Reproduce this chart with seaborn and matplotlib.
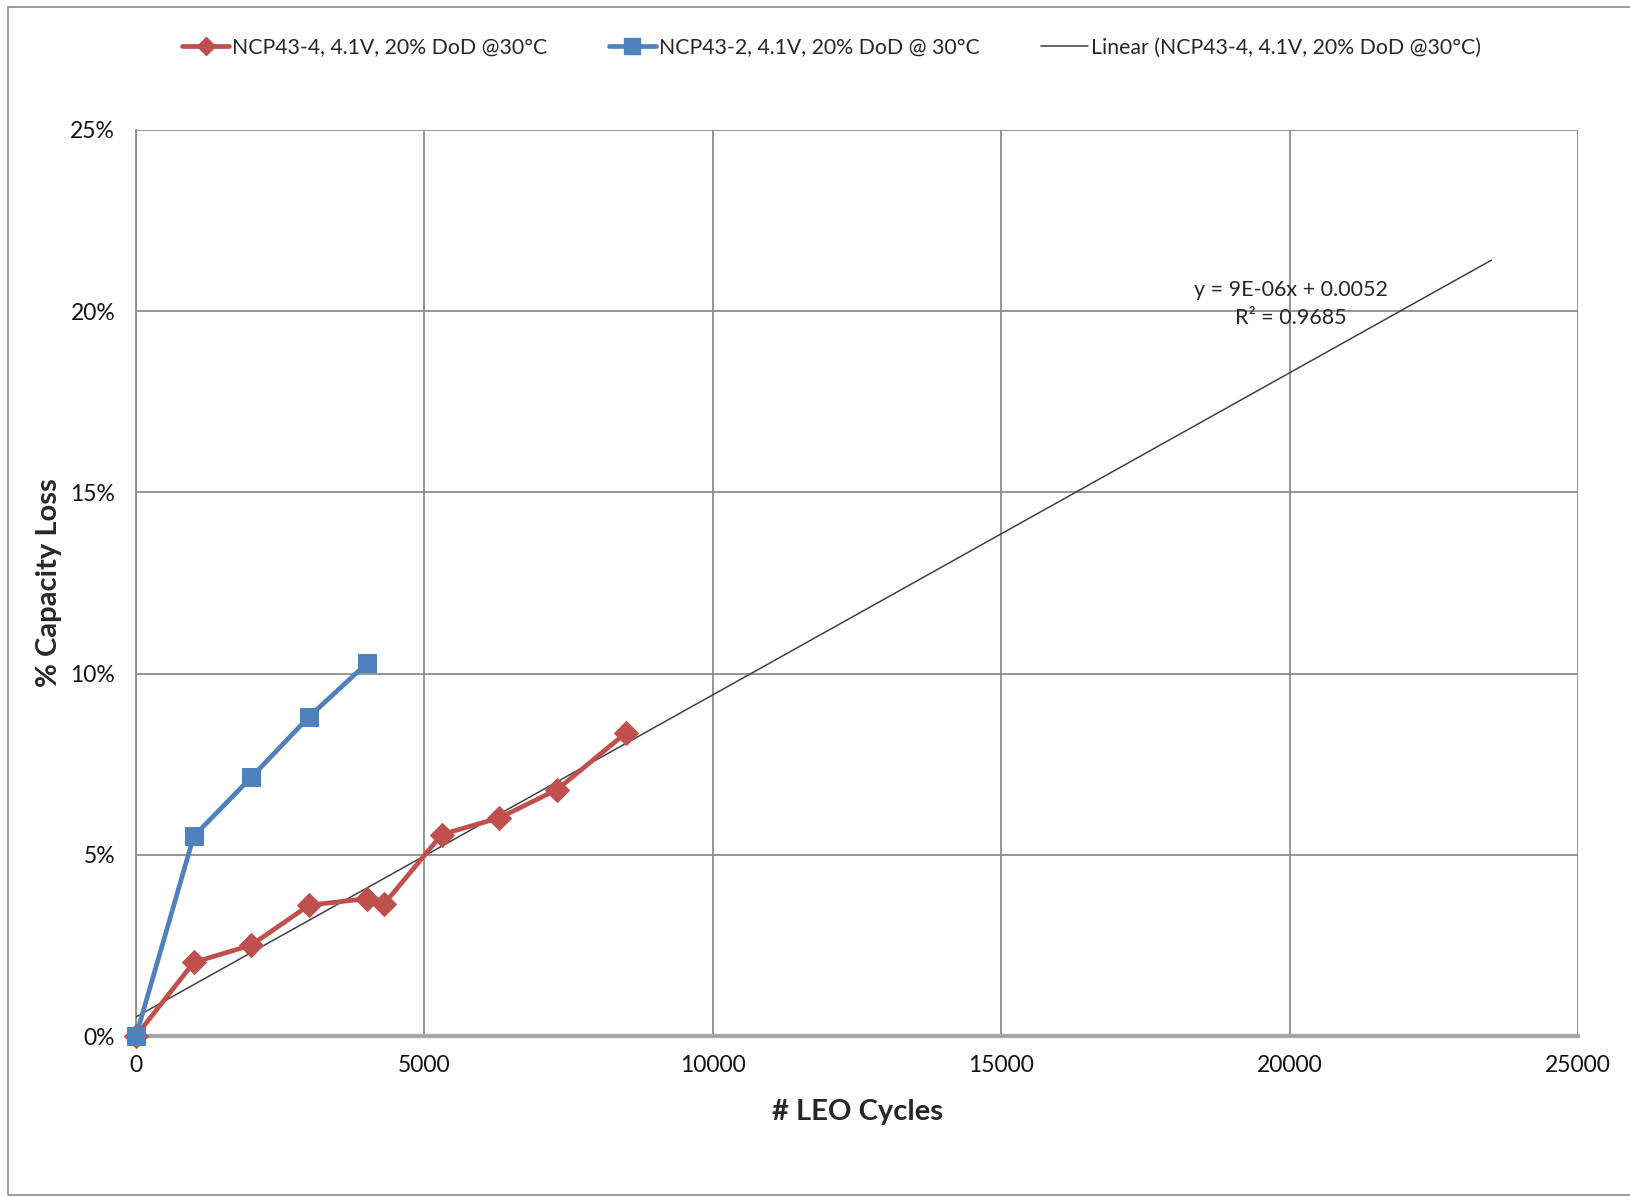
import numpy as np
import pandas as pd
import matplotlib
matplotlib.use("Agg")
import matplotlib.pyplot as plt
import seaborn as sns
from matplotlib.lines import Line2D
from matplotlib.patches import Rectangle
from matplotlib.ticker import PercentFormatter

# Cell NCP43-4 (4.1V, 20% DoD @30°C)
cycles_43_4 = [0, 1000, 2000, 3000, 4000, 4300, 5300, 6300, 7300, 8500]
loss_43_4 = [0.0, 0.0203, 0.0251, 0.0361, 0.0379, 0.0364, 0.0556, 0.0602, 0.0680, 0.0837]

# Cell NCP43-2 (4.1V, 20% DoD @ 30°C)
cycles_43_2 = [0, 1000, 2000, 3000, 4000]
loss_43_2 = [0.0, 0.0551, 0.0714, 0.0881, 0.1028]

# Linear trend for NCP43-4, fitted to its data and extended forward
trend_range = [0, 23500]
trend_eq = "y = 9E-06x + 0.0052"
trend_r2 = "R² = 0.9685"

label_43_4 = "NCP43-4, 4.1V, 20% DoD @30°C"
label_43_2 = "NCP43-2, 4.1V, 20% DoD @ 30°C"
label_trend = "Linear (NCP43-4, 4.1V, 20% DoD @30°C)"

x_ticks = [0, 5000, 10000, 15000, 20000, 25000]
y_ticks = [0.0, 0.05, 0.10, 0.15, 0.20, 0.25]

RED = "#C0504D"
BLUE = "#4F81BD"
GRID = "#8C8C8C"

sns.set_theme(style="white")
plt.rcParams["font.family"] = ["Lato", "DejaVu Sans"]

fig = plt.figure(figsize=(16.31, 11.97), dpi=100)
ax = fig.add_axes([0.0834, 0.1345, 0.8841, 0.7569])

slope, intercept = np.polyfit(cycles_43_4, loss_43_4, 1)

df_a = pd.DataFrame({"cycles": cycles_43_4, "loss": loss_43_4})
df_b = pd.DataFrame({"cycles": cycles_43_2, "loss": loss_43_2})
trend_x = np.array(trend_range, dtype=float)
df_t = pd.DataFrame({"cycles": trend_x, "loss": slope * trend_x + intercept})

sns.lineplot(data=df_t, x="cycles", y="loss", ax=ax, color="#404040", lw=1.1,
             zorder=4, legend=False)
sns.lineplot(data=df_a, x="cycles", y="loss", ax=ax, color=RED, lw=3.4,
             marker="D", markersize=12, markeredgecolor=RED, zorder=5,
             legend=False, clip_on=False)
sns.lineplot(data=df_b, x="cycles", y="loss", ax=ax, color=BLUE, lw=3.4,
             marker="s", markersize=13.5, markeredgecolor=BLUE, zorder=6,
             legend=False, clip_on=False)

ax.set_xlim(0, 25000)
ax.set_ylim(0, 0.25)
ax.set_xticks(x_ticks)
ax.set_yticks(y_ticks)
ax.yaxis.set_major_formatter(PercentFormatter(1.0, decimals=0))
ax.grid(True, color=GRID, lw=1.3)
ax.set_axisbelow(True)

for side in ["top", "right"]:
    ax.spines[side].set_visible(False)
ax.spines["left"].set_color(GRID)
ax.spines["left"].set_linewidth(1.3)
ax.spines["bottom"].set_color("#A6A6A6")
ax.spines["bottom"].set_linewidth(3)

ax.tick_params(axis="both", which="major", labelsize=16.5, colors="#111111",
               length=6, width=1.3, color=GRID, direction="out")
ax.tick_params(axis="x", pad=8)
ax.tick_params(axis="y", pad=9)

ax.set_xlabel("# LEO Cycles", fontsize=21, fontweight="bold", labelpad=16)
ax.set_ylabel("% Capacity Loss", fontsize=21, fontweight="bold", labelpad=6)

ax.text(20020, 0.2058, trend_eq, fontsize=15.5, ha="center", va="center")
ax.text(20020, 0.1980, trend_r2, fontsize=15.5, ha="center", va="center")

handles = [
    Line2D([], [], color=RED, lw=3.4, marker="D", markersize=9),
    Line2D([], [], color=BLUE, lw=3.4, marker="s", markersize=11),
    Line2D([], [], color="#404040", lw=1.1),
]
fig.legend(handles, [label_43_4, label_43_2, label_trend], loc="center",
           bbox_to_anchor=(0.51, 0.960), ncol=3, frameon=False, fontsize=15.3,
           handlelength=2.2, handletextpad=0.15, columnspacing=2.9)

fig.patches.append(Rectangle((0.0049, 0.0017), 1.2, 0.9925, transform=fig.transFigure,
                             fill=False, edgecolor="#8C8C8C", lw=1.2))

fig.savefig("out.png", dpi=100)
